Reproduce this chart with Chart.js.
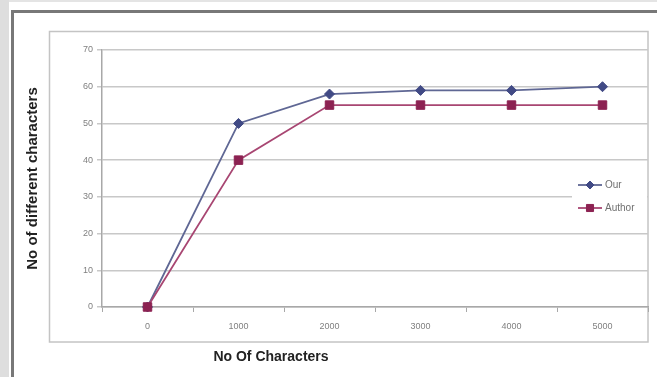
<!DOCTYPE html>
<html>
<head>
<meta charset="utf-8">
<script src="https://cdn.jsdelivr.net/npm/chart.js@4/dist/chart.umd.min.js"></script>
<style>
    html, body { margin: 0; padding: 0; background: #fff; }
    #wrap { width: 657px; height: 377px; }
</style>
</head>
<body>
<div id="wrap"><canvas id="chart" width="657" height="377"></canvas></div>
<script>
// Chart data
const categories = ['0', '1000', '2000', '3000', '4000', '5000'];
const ourValues = [0, 50, 58, 59, 59, 60];
const authorValues = [0, 40, 55, 55, 55, 55];
const seriesNames = ['Our', 'Author'];
const yTicks = [0, 10, 20, 30, 40, 50, 60, 70];
const xTitle = 'No Of Characters';
const yTitle = 'No of different characters';

const FONT = "'Liberation Sans', Arial, sans-serif";

// Frame, plot box and outer border (screenshot look)
const framePlugin = {
    id: 'frame',
    beforeDraw(chart) {
        const ctx = chart.ctx;
        ctx.save();
        ctx.fillStyle = '#ffffff';
        ctx.fillRect(0, 0, chart.width, chart.height);

        // light gray strip on the left
        ctx.fillStyle = '#dedede';
        ctx.fillRect(0, 0, 9, chart.height);
        ctx.fillStyle = '#e4e4e4';
        ctx.fillRect(9, 0, chart.width, 2);

        // outer dark border (top + left)
        ctx.fillStyle = '#787878';
        ctx.fillRect(11, 10, chart.width - 11, 3);
        ctx.fillRect(11, 10, 3, chart.height - 10);

        // plot box
        ctx.strokeStyle = '#c4c4c4';
        ctx.lineWidth = 1.5;
        ctx.strokeRect(49.5, 31.5, 598.5, 310.5);
        ctx.restore();
    },
    afterDatasetsDraw(chart) {
        const ctx = chart.ctx;
        ctx.save();

        // legend inside the plot, right side
        ctx.fillStyle = '#ffffff';
        ctx.fillRect(572, 173, 75, 46);
        const rows = [185, 208];
        chart.data.datasets.forEach((ds, i) => {
            const y = rows[i];
            ctx.strokeStyle = ds.borderColor;
            ctx.lineWidth = ds.borderWidth;
            ctx.beginPath();
            ctx.moveTo(578, y);
            ctx.lineTo(602, y);
            ctx.stroke();
            ctx.fillStyle = ds.pointBackgroundColor;
            ctx.strokeStyle = ds.pointBorderColor;
            ctx.lineWidth = 1;
            Chart.helpers.drawPoint(ctx, {
                pointStyle: ds.pointStyle,
                radius: ds.pointRadius - 1,
                rotation: 0,
                borderWidth: 1
            }, 590, y);
            ctx.fillStyle = '#707070';
            ctx.font = '10px ' + FONT;
            ctx.textAlign = 'left';
            ctx.textBaseline = 'middle';
            ctx.fillText(ds.label, 605, y);
        });

        // x axis title (sits left of centre in the original)
        ctx.fillStyle = '#222222';
        ctx.font = 'bold 14px ' + FONT;
        ctx.textAlign = 'center';
        ctx.textBaseline = 'middle';
        ctx.fillText(xTitle, 271, 357);
        ctx.restore();
    }
};

const ctx = document.getElementById('chart').getContext('2d');
const chart = new Chart(ctx, {
    type: 'line',
    data: {
        labels: categories,
        datasets: [{
            label: seriesNames[0],
            data: ourValues,
            borderColor: '#5f6794',
            borderWidth: 1.8,
            pointStyle: 'rectRot',
            pointRadius: 5,
            pointBackgroundColor: '#414a85',
            pointBorderColor: '#414a85',
            pointBorderWidth: 1,
            tension: 0,
            clip: false,
            order: 1
        }, {
            label: seriesNames[1],
            data: authorValues,
            borderColor: '#a84672',
            borderWidth: 1.8,
            pointStyle: 'rect',
            pointRadius: 6,
            pointBackgroundColor: '#8c2252',
            pointBorderColor: '#8c2252',
            pointBorderWidth: 1,
            tension: 0,
            clip: false,
            order: 0
        }]
    },
    options: {
        responsive: false,
        animation: false,
        layout: {
            padding: { left: 20, right: 9, top: 50, bottom: 0 }
        },
        plugins: {
            legend: { display: false },
            tooltip: { enabled: false }
        },
        scales: {
            x: {
                offset: true,
                grid: {
                    offset: true,
                    drawOnChartArea: false,
                    drawTicks: true,
                    tickLength: 5,
                    color: '#a8a8a8'
                },
                border: { color: '#a8a8a8', width: 1.5 },
                ticks: {
                    font: { family: FONT, size: 9 },
                    color: '#808080',
                    padding: 9,
                    maxRotation: 0
                },
                afterFit: (scale) => { scale.height = 70; }
            },
            y: {
                min: 0,
                max: 70,
                afterBuildTicks: (scale) => {
                    scale.ticks = yTicks.map(v => ({ value: v }));
                },
                grid: {
                    color: '#c8c8c8',
                    lineWidth: 1.5,
                    tickLength: 5
                },
                border: { color: '#a8a8a8', width: 1.5 },
                ticks: {
                    font: { family: FONT, size: 9 },
                    color: '#808080',
                    padding: 4
                },
                title: {
                    display: true,
                    text: yTitle,
                    font: { family: FONT, size: 15, weight: 'bold' },
                    color: '#222222',
                    padding: { top: 4, bottom: 0 }
                },
                afterFit: (scale) => { scale.width = 82; }
            }
        }
    },
    plugins: [framePlugin]
});
</script>
</body>
</html>
